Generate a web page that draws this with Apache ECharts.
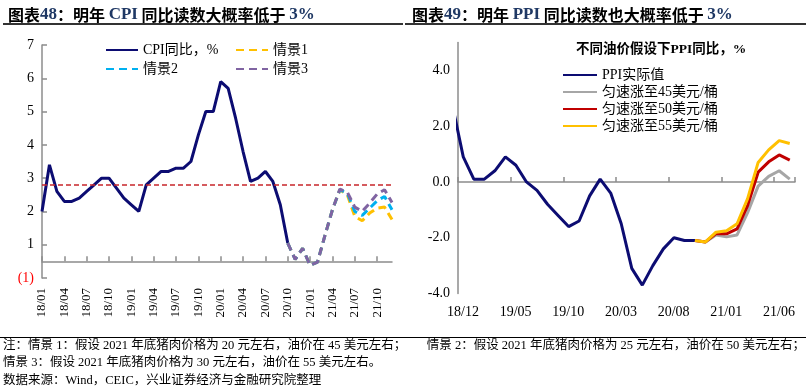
<!DOCTYPE html>
<html><head><meta charset="utf-8">
<script src="https://cdn.jsdelivr.net/npm/echarts@6/dist/echarts.min.js"></script>
<style>html,body{margin:0;padding:0;background:#fff}#c{width:808px;height:388px}</style>
</head><body><div id="c"></div>
<script>
// ---------- data: left chart (CPI) ----------
const cpiMonths = [];
for (let y = 18; y <= 21; y++) for (let m = 1; m <= 12; m++) cpiMonths.push(y + '/' + (m < 10 ? '0' + m : m));
const cpiYTicks = [0, 1, 2, 3, 4, 5, 6, 7];
const cpiRefLine = 2.8;
const cpiActual = [2.0, 3.4, 2.6, 2.3, 2.3, 2.4, 2.6, 2.8, 3.0, 3.0, 2.7, 2.4,
  2.2, 2.0, 2.8, 3.0, 3.2, 3.2, 3.3, 3.3, 3.5, 4.3, 5.0, 5.0,
  5.9, 5.7, 4.8, 3.8, 2.9, 3.0, 3.2, 2.9, 2.2, 1.05, null, null,
  null, null, null, null, null, null, null, null, null, null, null, null];
const pre = new Array(33).fill(null);
const scen1 = pre.concat([1.05, 0.56, 0.89, 0.38, 0.48, 1.28, 2.05, 2.65, 2.5, 1.85, 1.72, 1.95, 2.1, 2.13, 1.76]);
const scen2 = pre.concat([1.05, 0.56, 0.89, 0.38, 0.48, 1.28, 2.05, 2.65, 2.55, 2.0, 1.88, 2.1, 2.32, 2.45, 2.05]);
const scen3 = pre.concat([1.05, 0.56, 0.89, 0.38, 0.48, 1.28, 2.05, 2.67, 2.58, 2.13, 2.0, 2.25, 2.52, 2.65, 2.27]);

// ---------- data: right chart (PPI) ----------
const ppiMonths = ['18/11', '18/12', '19/01', '19/02', '19/03', '19/04', '19/05', '19/06', '19/07', '19/08', '19/09', '19/10', '19/11', '19/12',
  '20/01', '20/02', '20/03', '20/04', '20/05', '20/06', '20/07', '20/08', '20/09', '20/10', '20/11', '20/12',
  '21/01', '21/02', '21/03', '21/04', '21/05', '21/06', '21/07'];
const ppiActual = [2.7, 0.9, 0.1, 0.1, 0.4, 0.9, 0.6, 0.0, -0.3, -0.8, -1.2, -1.6, -1.4, -0.5,
  0.1, -0.4, -1.5, -3.1, -3.7, -3.0, -2.4, -2.0, -2.1, -2.1, null, null,
  null, null, null, null, null, null, null];
const pre2 = new Array(23).fill(null);
const oil45 = pre2.concat([-2.1, -2.15, -1.9, -1.97, -1.9, -1.1, -0.15, 0.2, 0.4, 0.1]);
const oil50 = pre2.concat([-2.1, -2.15, -1.85, -1.86, -1.68, -0.85, 0.35, 0.72, 0.97, 0.78]);
const oil55 = pre2.concat([-2.1, -2.15, -1.8, -1.75, -1.5, -0.6, 0.7, 1.15, 1.48, 1.38]);

const SERIF = "'Liberation Serif','Noto Sans CJK SC',serif";
const CJK = "'Noto Sans CJK SC','Liberation Serif',sans-serif";
const AXC = '#8c8c8c';
const NAVY = '#0c0c72';

const toPairs = arr => arr.map((v, j) => [j - 0.5, v]);

const chart = echarts.init(document.getElementById('c'), null, {renderer: 'canvas'});
const leftH = 233;
const legendCommon = {orient: 'vertical', itemHeight: 10, itemStyle: {opacity: 0},
  textStyle: {fontFamily: SERIF, fontSize: 14, color: '#000'}};
const lineSeries = (name, xi, yi, data, color, dashed) => ({
  name, type: 'line', xAxisIndex: xi, yAxisIndex: yi, data, symbol: 'none', showSymbol: false,
  color, itemStyle: {opacity: 0}, lineStyle: {width: 3, color, type: dashed ? [8, 5] : 'solid'}
});
const option = {
  backgroundColor: '#fff',
  animation: false,
  title: [
    {left: 3, top: 1, text: '{a|图表}{b|48}{a|：明年 }{b|CPI}{a| 同比读数大概率低于 }{b|3%}',
      textStyle: {rich: {a: {fontFamily: CJK, fontWeight: 'bold', fontSize: 16, color: '#000'},
        b: {fontFamily: SERIF, fontSize: 17, color: '#1f3864'}}}},
    {left: 407, top: 1, text: '{a|图表}{b|49}{a|：明年 }{b|PPI}{a| 同比读数也大概率低于 }{b|3%}',
      textStyle: {rich: {a: {fontFamily: CJK, fontWeight: 'bold', fontSize: 16, color: '#000'},
        b: {fontFamily: SERIF, fontSize: 17, color: '#1f3864'}}}},
    {left: 571, top: 38, text: '不同油价假设下PPI同比，%',
      textStyle: {fontFamily: SERIF, fontWeight: 'bold', fontSize: 13.5, color: '#000'}}
  ],
  legend: [
    Object.assign({left: 100, top: 38, itemWidth: 32, itemGap: 5, data: ['CPI同比，%', '情景2']}, legendCommon),
    Object.assign({left: 230, top: 38, itemWidth: 32, itemGap: 5, data: ['情景1', '情景3']}, legendCommon),
    Object.assign({left: 557, top: 63, itemWidth: 34, itemGap: 3,
      data: ['PPI实际值', '匀速涨至45美元/桶', '匀速涨至50美元/桶', '匀速涨至55美元/桶']}, legendCommon)
  ],
  grid: [
    {left: 42, top: 45, width: 350, height: leftH},
    {left: 458, top: 42.5, width: 337, height: 251}
  ],
  xAxis: [
    {gridIndex: 0, type: 'category', data: cpiMonths, boundaryGap: false, position: 'bottom',
      offset: -0.5 * leftH / 7,
      axisLine: {onZero: false, lineStyle: {color: AXC, width: 1.5}},
      axisTick: {inside: true, interval: 2, length: 5, lineStyle: {color: AXC, width: 1.5}},
      axisLabel: {show: false}, splitLine: {show: false}},
    {gridIndex: 0, type: 'category', data: cpiMonths, boundaryGap: false, position: 'bottom',
      axisLine: {show: false, onZero: false}, axisTick: {show: false},
      axisLabel: {rotate: 90, interval: 2, fontFamily: SERIF, fontSize: 13, color: '#000', margin: 10},
      splitLine: {show: false}},
    {gridIndex: 1, type: 'value', min: 0, max: 32, interval: 5, position: 'bottom',
      axisLine: {onZero: true, lineStyle: {color: AXC, width: 1.5}},
      axisTick: {inside: true, length: 5, lineStyle: {color: AXC, width: 1.5}},
      axisLabel: {show: false}, splitLine: {show: false}},
    {gridIndex: 1, type: 'value', min: 0, max: 32, interval: 5, position: 'bottom',
      axisLine: {show: false, onZero: false}, axisTick: {show: false},
      axisLabel: {fontFamily: SERIF, fontSize: 14, color: '#000', margin: 12, padding: [0, 0, 0, 10],
        formatter: v => (v % 5 === 0 && ppiMonths[v + 1] && v < 32) ? ppiMonths[v + 1] : ''},
      splitLine: {show: false}}
  ],
  yAxis: [
    {gridIndex: 0, type: 'value', min: cpiYTicks[0], max: cpiYTicks[cpiYTicks.length - 1], interval: 1,
      axisLine: {show: true, lineStyle: {color: AXC, width: 1.5}},
      axisTick: {show: true, inside: true, length: 5, lineStyle: {color: AXC, width: 1.5}},
      axisLabel: {fontFamily: SERIF, fontSize: 14, color: '#000', margin: 8,
        formatter: v => v === 0 ? '{r|(1)}' : String(v), rich: {r: {color: '#ff0000', fontFamily: SERIF, fontSize: 14}}},
      splitLine: {show: false}},
    {gridIndex: 1, type: 'value', min: -4, max: 5, interval: 2,
      axisLine: {show: true, lineStyle: {color: AXC, width: 1.5}},
      axisTick: {show: false},
      axisLabel: {fontFamily: SERIF, fontSize: 14, color: '#000', margin: 8, showMaxLabel: false,
        formatter: v => v.toFixed(1)},
      splitLine: {show: false}}
  ],
  series: [
    Object.assign(lineSeries('CPI同比，%', 0, 0, cpiActual, NAVY, false), {
      markLine: {silent: true, symbol: 'none', label: {show: false},
        lineStyle: {color: '#c8262b', type: [5, 3], width: 1.5}, data: [{yAxis: cpiRefLine}]}}),
    lineSeries('情景1', 0, 0, scen1, '#ffc000', true),
    lineSeries('情景2', 0, 0, scen2, '#00b0f0', true),
    lineSeries('情景3', 0, 0, scen3, '#8064a2', true),
    lineSeries('PPI实际值', 2, 1, toPairs(ppiActual), NAVY, false),
    lineSeries('匀速涨至45美元/桶', 2, 1, toPairs(oil45), '#a6a6a6', false),
    lineSeries('匀速涨至50美元/桶', 2, 1, toPairs(oil50), '#c00000', false),
    lineSeries('匀速涨至55美元/桶', 2, 1, toPairs(oil55), '#ffc000', false)
  ],
  graphic: [
    {type: 'line', shape: {x1: 3, y1: 24, x2: 403, y2: 24}, style: {stroke: '#333', lineWidth: 2}},
    {type: 'line', shape: {x1: 405, y1: 24, x2: 806, y2: 24}, style: {stroke: '#333', lineWidth: 2}},
    {type: 'line', shape: {x1: 0, y1: 337.5, x2: 806, y2: 337.5}, style: {stroke: '#000', lineWidth: 1.2}},
    {type: 'text', style: {x: 3, y: 346, verticalAlign: 'middle', align: 'left', fill: '#000',
      font: "12.5px " + SERIF, text: '注：情景 1：假设 2021 年底猪肉价格为 20 元左右，油价在 45 美元左右；'}},
    {type: 'text', style: {x: 805, y: 346, verticalAlign: 'middle', align: 'right', fill: '#000',
      font: "12.5px " + SERIF, text: '情景 2：假设 2021 年底猪肉价格为 25 元左右，油价在 50 美元左右；'}},
    {type: 'text', style: {x: 3, y: 363, verticalAlign: 'middle', align: 'left', fill: '#000',
      font: "12.5px " + SERIF, text: '情景 3：假设 2021 年底猪肉价格为 30 元左右，油价在 55 美元左右。'}},
    {type: 'text', style: {x: 3, y: 381, verticalAlign: 'middle', align: 'left', fill: '#000',
      font: "12.5px " + SERIF, text: '数据来源：Wind，CEIC，兴业证券经济与金融研究院整理'}}
  ]
};
chart.setOption(option);
</script></body></html>
